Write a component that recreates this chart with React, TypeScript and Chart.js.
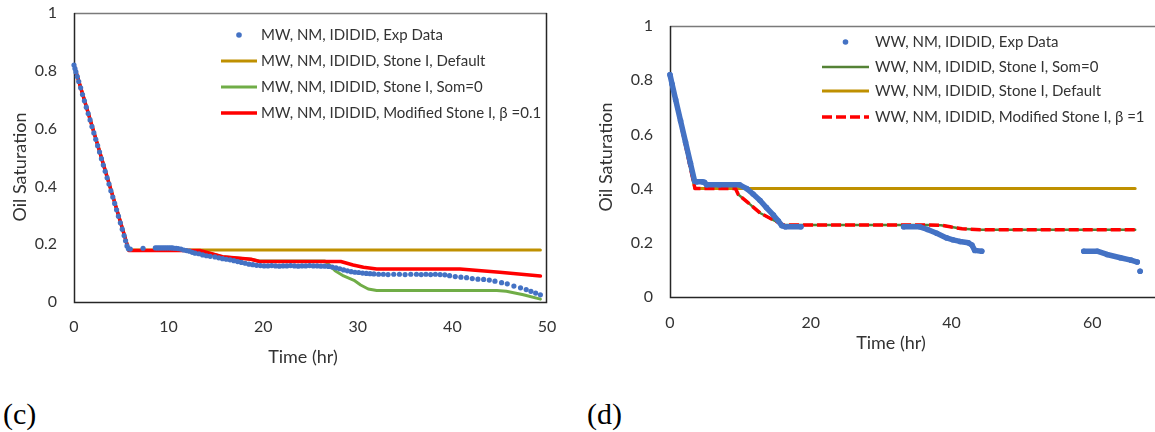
import React, { useEffect, useRef } from "react";
import { Chart, registerables } from "chart.js";

Chart.register(...registerables);

const FONT = "Lato, 'Open Sans', 'DejaVu Sans', sans-serif";
const TEXT = "#333333";
const FRAME = "#262626";
const FRAME_TOP = "#7a7a7a";
const BLUE = "#4472C4";
const GOLD = "#BF9000";
const GREEN_C = "#70AD47";
const GREEN_D = "#548235";
const RED = "#FF0000";

// ---------------- Panel (c) data ----------------
const cLabels = [
  "MW, NM, IDIDID, Exp Data",
  "MW, NM, IDIDID, Stone I, Default",
  "MW, NM, IDIDID, Stone I, Som=0",
  "MW, NM, IDIDID, Modified Stone I, \u03B2 =0.1",
];
const cExpTime = [
  0.0, 0.1, 0.2, 0.35, 0.5, 0.7, 0.9, 1.1, 1.3, 1.5, 1.7, 1.9, 2.1, 2.3, 2.5, 2.7, 2.9, 3.1, 3.3, 3.5,
  3.7, 3.9, 4.1, 4.3, 4.5, 4.7, 4.9, 5.1, 5.3, 5.45, 5.6, 5.75, 5.95, 7.3, 8.6, 8.8, 9.0, 9.2, 9.4, 9.6,
  9.8, 10.0, 10.2, 10.4, 10.6, 10.8, 11.0, 11.3, 11.6, 11.9, 12.2, 12.5, 12.8, 13.2, 13.6, 14.0, 14.4,
  14.9, 15.3, 15.7, 16.1, 16.5, 16.9, 17.3, 17.7, 18.1, 18.5, 18.9, 19.3, 19.7, 20.1, 20.5, 20.9, 21.3,
  21.7, 22.1, 22.5, 22.9, 23.3, 23.7, 24.1, 24.5, 24.9, 25.3, 25.7, 26.1, 26.5, 26.9, 27.3, 27.7, 28.1,
  28.5, 28.9, 29.3, 29.7, 30.1, 30.5, 30.9, 31.3, 31.7, 32.2, 32.7, 33.2, 33.8, 34.4, 35.0, 35.6, 36.2,
  36.7, 37.2, 37.7, 38.2, 38.7, 39.2, 39.7, 40.3, 40.9, 41.5, 42.1, 42.7, 43.3, 43.9, 44.5, 45.2, 45.8,
  46.5, 47.2, 47.8, 48.3, 48.8, 49.3,
];
const cExpSat = [
  0.82, 0.808, 0.796, 0.78, 0.763, 0.741, 0.718, 0.696, 0.674, 0.652, 0.63, 0.607, 0.585, 0.563, 0.541,
  0.519, 0.496, 0.474, 0.452, 0.43, 0.408, 0.385, 0.363, 0.341, 0.319, 0.297, 0.274, 0.252, 0.23, 0.212,
  0.194, 0.184, 0.183, 0.186, 0.187, 0.187, 0.187, 0.187, 0.187, 0.187, 0.187, 0.187, 0.187, 0.187,
  0.186, 0.186, 0.185, 0.183, 0.18, 0.178, 0.176, 0.172, 0.169, 0.167, 0.163, 0.16, 0.158, 0.156, 0.153,
  0.15, 0.148, 0.146, 0.143, 0.14, 0.137, 0.134, 0.131, 0.129, 0.127, 0.126, 0.125, 0.125, 0.126, 0.125,
  0.124, 0.125, 0.125, 0.126, 0.125, 0.124, 0.125, 0.125, 0.126, 0.125, 0.125, 0.124, 0.124, 0.123,
  0.121, 0.118, 0.115, 0.111, 0.108, 0.105, 0.103, 0.102, 0.1, 0.099, 0.098, 0.097, 0.096, 0.096, 0.095,
  0.096, 0.096, 0.095, 0.096, 0.096, 0.095, 0.096, 0.095, 0.096, 0.095, 0.094, 0.091, 0.088, 0.086,
  0.084, 0.081, 0.079, 0.078, 0.076, 0.072, 0.067, 0.063, 0.055, 0.049, 0.043, 0.037, 0.031, 0.025,
];
const cDefaultTime = [0, 5.8, 49.3];
const cDefaultSat = [0.82, 0.18, 0.18];
const cSom0Time = [0, 5.8, 13.3, 15.7, 18.7, 19.6, 26.5, 27.1, 27.6, 28.5, 29.6, 30.3, 31.1, 32.0, 44.7, 45.7, 47.5, 49.3];
const cSom0Sat = [0.82, 0.178, 0.178, 0.157, 0.148, 0.142, 0.142, 0.125, 0.108, 0.09, 0.075, 0.059, 0.045, 0.04, 0.04, 0.037, 0.025, 0.01];
const cModTime = [0, 5.8, 13.3, 15.7, 18.7, 19.6, 28.2, 29.5, 30.6, 32.0, 40.8, 45.0, 49.3];
const cModSat = [0.82, 0.178, 0.178, 0.157, 0.148, 0.14, 0.14, 0.128, 0.12, 0.114, 0.114, 0.103, 0.09];

// ---------------- Panel (d) data ----------------
const dLabels = [
  "WW, NM, IDIDID, Exp Data",
  "WW, NM, IDIDID, Stone I, Som=0",
  "WW, NM, IDIDID, Stone I, Default",
  "WW, NM, IDIDID, Modified Stone I, \u03B2 =1",
];
const dExpTime = [
  0, 0.3, 0.8, 1.5, 2.2, 2.9, 3.5, 3.8, 4.6, 4.9, 5.2, 7.0, 9.9, 10.9, 11.8, 12.8, 13.7, 14.7, 15.4, 15.9,
  16.4, 18.6, 26, 33.2, 35.5, 36.6, 37.9, 39.3, 40.2, 41.2, 42.4, 42.9, 43.3, 44.3, 52, 58.8, 60.7, 62.1,
  64.0, 65.5, 66.4, 66.6, 66.8,
];
const dExpSat = [
  0.82, 0.785, 0.728, 0.65, 0.572, 0.494, 0.427, 0.425, 0.425, 0.423, 0.414, 0.414, 0.414, 0.4, 0.38,
  0.356, 0.33, 0.302, 0.28, 0.263, 0.259, 0.259, null, 0.259, 0.259, 0.249, 0.235, 0.218, 0.211, 0.205,
  0.2, 0.192, 0.172, 0.169, null, 0.169, 0.169, 0.157, 0.145, 0.136, 0.129, null, 0.095,
];
const dSom0Time = [0, 3.55, 9.3, 9.7, 11.0, 12.8, 14.7, 16.1, 36.5, 38.5, 40.0, 41.5, 44.1, 66.1];
const dSom0Sat = [0.82, 0.4, 0.4, 0.378, 0.35, 0.31, 0.284, 0.266, 0.266, 0.265, 0.258, 0.252, 0.248, 0.248];
const dDefaultTime = [0, 3.55, 66.1];
const dDefaultSat = [0.82, 0.4, 0.4];
const dModTime = [0, 3.55, 9.3, 9.7, 11.0, 12.8, 14.7, 16.1, 36.5, 38.5, 40.0, 41.5, 44.1, 66.1];
const dModSat = [0.82, 0.4, 0.4, 0.378, 0.35, 0.31, 0.284, 0.266, 0.266, 0.265, 0.258, 0.252, 0.248, 0.248];

// ---------------- axis ticks ----------------
const satTicks = [0, 0.2, 0.4, 0.6, 0.8, 1];
const cTimeTicks = [0, 10, 20, 30, 40, 50];
const dTimeTicks = [0, 20, 40, 60, 80];
const timeTitle = "Time (hr)";
const satTitle = "Oil Saturation";

const pts = (xs: number[], ys: (number | null)[]) => xs.map((x, i) => ({ x, y: ys[i] }));

type Spec = {
  kinds: string[];
  labels: string[];
  rows: number[];
  lineStart: number;
  lineLen: number;
  textStart: number;
  xTitlePos: [number, number];
  yTitlePos: [number, number];
};

function decorPlugin(spec: Spec) {
  return {
    id: "decor",
    beforeDatasetsDraw(chart: any) {
      const { ctx, chartArea: a } = chart;
      const L = Math.round(a.left), R = Math.round(a.right), T = Math.round(a.top), B = Math.round(a.bottom);
      ctx.save();
      ctx.setLineDash([]);
      ctx.lineWidth = 1.5;
      ctx.strokeStyle = FRAME_TOP;
      ctx.beginPath();
      ctx.moveTo(L, T + 0.5);
      ctx.lineTo(R, T + 0.5);
      ctx.stroke();
      ctx.strokeStyle = FRAME;
      ctx.beginPath();
      ctx.moveTo(L + 0.5, T);
      ctx.lineTo(L + 0.5, B + 0.5);
      ctx.lineTo(R - 0.5, B + 0.5);
      ctx.lineTo(R - 0.5, T);
      ctx.stroke();
      ctx.restore();
    },
    afterDraw(chart: any) {
      const { ctx, chartArea: a } = chart;
      ctx.save();
      spec.labels.forEach((label, i) => {
        const ds = chart.data.datasets[i];
        const y = a.top + spec.rows[i];
        const x0 = a.left + spec.lineStart;
        const x1 = x0 + spec.lineLen;
        if (spec.kinds[i] === "dot") {
          ctx.fillStyle = ds.pointBackgroundColor;
          ctx.beginPath();
          ctx.arc((x0 + x1) / 2, y, 2.8, 0, Math.PI * 2);
          ctx.fill();
        } else {
          ctx.strokeStyle = ds.borderColor;
          ctx.lineWidth = ds.borderWidth;
          ctx.setLineDash(ds.borderDash || []);
          ctx.lineCap = "butt";
          ctx.beginPath();
          ctx.moveTo(x0, y);
          ctx.lineTo(x1, y);
          ctx.stroke();
          ctx.setLineDash([]);
        }
        ctx.fillStyle = TEXT;
        ctx.font = `15px ${FONT}`;
        ctx.textAlign = "left";
        ctx.textBaseline = "middle";
        ctx.fillText(label, a.left + spec.textStart, y);
      });
      ctx.font = `18px ${FONT}`;
      ctx.fillStyle = TEXT;
      ctx.textAlign = "center";
      ctx.textBaseline = "middle";
      ctx.fillText(timeTitle, spec.xTitlePos[0], spec.xTitlePos[1]);
      ctx.translate(spec.yTitlePos[0], spec.yTitlePos[1]);
      ctx.rotate(-Math.PI / 2);
      ctx.fillText(satTitle, 0, 0);
      ctx.restore();
    },
  };
}

function scalesFor(xTicks: number[], yWidth: number, xHeight: number, xPad: number) {
  const tickFont = { family: FONT, size: 16 };
  return {
    x: {
      type: "linear" as const,
      position: "bottom" as const,
      min: xTicks[0],
      max: xTicks[xTicks.length - 1],
      afterFit: (s: any) => {
        s.height = xHeight;
        s.paddingLeft = 0;
        s.paddingRight = 0;
      },
      afterBuildTicks: (s: any) => {
        s.ticks = xTicks.map((v) => ({ value: v }));
      },
      grid: { display: false, drawTicks: false },
      border: { display: false },
      ticks: { padding: xPad, font: tickFont, color: TEXT, maxRotation: 0, autoSkip: false, callback: (v: any) => String(v) },
    },
    y: {
      type: "linear" as const,
      position: "left" as const,
      min: satTicks[0],
      max: satTicks[satTicks.length - 1],
      afterFit: (s: any) => {
        s.width = yWidth;
        s.paddingTop = 0;
        s.paddingBottom = 0;
      },
      afterBuildTicks: (s: any) => {
        s.ticks = satTicks.map((v) => ({ value: v }));
      },
      grid: { display: false, drawTicks: false },
      border: { display: false },
      ticks: { padding: 17, font: tickFont, color: TEXT, autoSkip: false, callback: (v: any) => String(Math.round(v * 10) / 10) },
    },
  };
}

const lineDs = (label: string, data: any[], color: string, width: number, order: number, dash?: number[]) => ({
  label,
  data,
  showLine: true,
  borderColor: color,
  backgroundColor: color,
  borderWidth: width,
  borderDash: dash || [],
  borderJoinStyle: "round" as const,
  borderCapStyle: dash ? ("butt" as const) : ("round" as const),
  pointRadius: 0,
  tension: 0,
  order,
});

function configC() {
  return {
    type: "scatter" as const,
    data: {
      datasets: [
        {
          label: cLabels[0],
          data: pts(cExpTime, cExpSat),
          showLine: false,
          pointRadius: 2.6,
          pointBackgroundColor: BLUE,
          pointBorderWidth: 0,
          backgroundColor: BLUE,
          borderColor: BLUE,
          order: 0,
          clip: false,
        },
        lineDs(cLabels[1], pts(cDefaultTime, cDefaultSat), GOLD, 3, 3),
        lineDs(cLabels[2], pts(cSom0Time, cSom0Sat), GREEN_C, 3, 2),
        lineDs(cLabels[3], pts(cModTime, cModSat), RED, 3.5, 1),
      ],
    },
    options: {
      responsive: false,
      animation: false,
      events: [],
      layout: { padding: { left: 0, top: 13, right: 28, bottom: 0 } },
      plugins: { legend: { display: false }, tooltip: { enabled: false } },
      scales: scalesFor(cTimeTicks, 74, 78, 15),
    },
    plugins: [
      decorPlugin({
        kinds: ["dot", "line", "line", "line"],
        labels: cLabels,
        rows: [22, 48, 74, 100],
        lineStart: 147,
        lineLen: 36,
        textStart: 187,
        xTitlePos: [303, 357],
        yTitlePos: [20, 167],
      }),
    ],
  };
}

function configD() {
  return {
    type: "scatter" as const,
    data: {
      datasets: [
        {
          label: dLabels[0],
          data: pts(dExpTime, dExpSat),
          showLine: true,
          spanGaps: false,
          borderColor: BLUE,
          backgroundColor: BLUE,
          borderWidth: 5.5,
          borderJoinStyle: "round" as const,
          borderCapStyle: "round" as const,
          pointRadius: 2.8,
          pointBackgroundColor: BLUE,
          pointBorderWidth: 0,
          tension: 0,
          order: 0,
          clip: false,
        },
        lineDs(dLabels[1], pts(dSom0Time, dSom0Sat), GREEN_D, 2.5, 3),
        lineDs(dLabels[2], pts(dDefaultTime, dDefaultSat), GOLD, 3, 2),
        lineDs(dLabels[3], pts(dModTime, dModSat), RED, 3.5, 1, [10, 4]),
      ],
    },
    options: {
      responsive: false,
      animation: false,
      events: [],
      layout: { padding: { left: 0, top: 26, right: 27, bottom: 0 } },
      plugins: { legend: { display: false }, tooltip: { enabled: false } },
      scales: scalesFor(dTimeTicks, 90, 83, 16),
    },
    plugins: [
      decorPlugin({
        kinds: ["dot", "line", "line", "line"],
        labels: dLabels,
        rows: [16, 41, 65, 91],
        lineStart: 152,
        lineLen: 47,
        textStart: 205,
        xTitlePos: [311, 343],
        yTitlePos: [26, 157],
      }),
    ],
  };
}

function Panel({ left, width, height, make }: { left: number; width: number; height: number; make: () => any }) {
  const ref = useRef<HTMLCanvasElement>(null);
  useEffect(() => {
    const chart = new Chart(ref.current as HTMLCanvasElement, make());
    return () => chart.destroy();
  }, []);
  return (
    <canvas
      ref={ref}
      width={width}
      height={height}
      style={{ position: "absolute", left, top: 0, width, height, display: "block" }}
    />
  );
}

export default function App() {
  const serif: React.CSSProperties = {
    position: "absolute",
    top: 397,
    fontFamily: "'Liberation Serif', 'Times New Roman', serif",
    fontSize: 30,
    lineHeight: "normal",
    color: "#000",
  };
  return (
    <div
      style={{
        position: "fixed",
        left: 0,
        top: 0,
        width: 1155,
        height: 432,
        overflow: "hidden",
        background: "#fff",
      }}
    >
      <Panel left={0} width={575} height={380} make={configC} />
      <Panel left={580} width={680} height={380} make={configD} />
      <span style={{ ...serif, left: 3 }}>(c)</span>
      <span style={{ ...serif, left: 587 }}>(d)</span>
    </div>
  );
}
